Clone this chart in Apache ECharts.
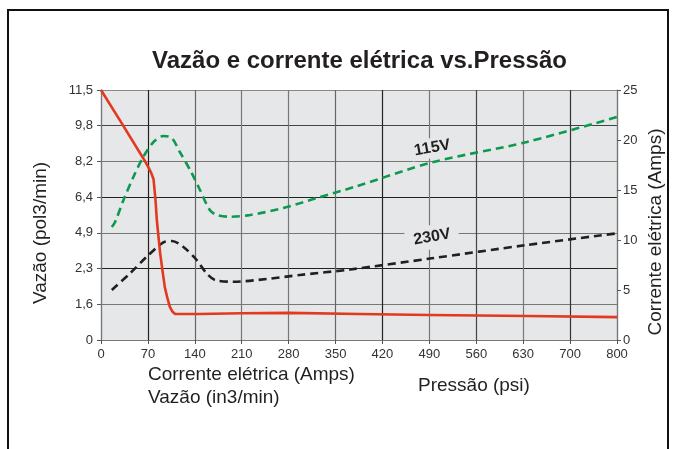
<!DOCTYPE html>
<html>
<head>
<meta charset="utf-8">
<script src="https://cdn.jsdelivr.net/npm/echarts@6/dist/echarts.min.js"></script>
<style>
  html, body { margin: 0; padding: 0; background: #fff; }
  #chart { width: 677px; height: 449px; }
</style>
</head>
<body>
<div id="chart"></div>
<script>
// Pressure axis: evenly spaced grid columns, labelled in psi
const pressureTicks = ['0', '70', '140', '210', '280', '350', '420', '490', '560', '630', '700', '800'];
// Flow axis (left): evenly spaced grid rows, labelled in pol3/min
const flowTicks = ['0', '1,6', '2,3', '4,9', '6,4', '8,2', '9,8', '11,5'];
// Current axis (right), Amps
const currentMax = 25;
const currentStep = 5;

// Flow curve: [pressure grid position, flow grid position]
const flowCurve = [
  [0, 7.0], [0.45, 6.05], [0.9, 5.09], [1.0, 4.86], [1.07, 4.68], [1.12, 4.5],
  [1.16, 3.95], [1.19, 3.36], [1.26, 2.44], [1.31, 1.95], [1.36, 1.48],
  [1.42, 1.15], [1.47, 0.92], [1.52, 0.8], [1.58, 0.73], [2.1, 0.73],
  [3.0, 0.75], [4.0, 0.76], [5.5, 0.73], [7.0, 0.70], [9.1, 0.67], [11, 0.64]
];

// Current at 115 V: [pressure grid position, Amps]
const current115 = [
  [0.23, 11.3], [0.3, 11.8], [0.48, 14.0], [0.69, 16.3], [0.9, 18.3], [1.12, 19.8],
  [1.33, 20.4], [1.51, 20.2], [1.68, 18.8], [1.9, 17.0], [2.11, 15.0],
  [2.32, 13.0], [2.47, 12.5], [2.75, 12.33], [3.18, 12.5], [3.89, 13.2],
  [4.6, 14.2], [5.4, 15.3], [7.09, 17.8], [9.08, 19.8], [11, 22.3]
];

// Current at 230 V: [pressure grid position, Amps]
const current230 = [
  [0.23, 5.0], [0.62, 6.67], [0.97, 8.3], [1.33, 9.77], [1.51, 9.9],
  [1.75, 9.33], [2.04, 8.0], [2.25, 6.67], [2.43, 6.0], [2.82, 5.83],
  [3.53, 6.1], [4.24, 6.5], [5.31, 7.05], [7.05, 8.17], [9.08, 9.5], [11, 10.67]
];

const FONT = '"Liberation Sans", Arial, Helvetica, sans-serif';
const INK = '#231f20';
const PLOT_BG = '#e6e7e8';

const chart = echarts.init(document.getElementById('chart'), null, { renderer: 'canvas' });

const option = {
  backgroundColor: '#fff',
  animation: false,
  textStyle: { fontFamily: FONT },
  title: {
    text: 'Vazão e corrente elétrica vs.Pressão',
    left: 147,
    top: 44,
    textStyle: { fontFamily: FONT, fontSize: 24, fontWeight: 'bold', color: INK }
  },
  grid: {
    left: 101, right: 60, top: 90, bottom: 109,
    show: true, backgroundColor: PLOT_BG, borderWidth: 0
  },
  xAxis: {
    type: 'value',
    min: 0, max: pressureTicks.length - 1, interval: 1,
    axisLine: { show: true, lineStyle: { color: '#777', width: 1.2 } },
    axisTick: { show: true, length: 4, lineStyle: { color: '#555' } },
    axisLabel: {
      color: '#333', fontSize: 13, margin: 8, fontFamily: FONT,
      formatter: v => pressureTicks[Math.round(v)]
    },
    splitLine: {
      show: true,
      lineStyle: {
        width: 1.2,
        color: ['#777', '#222', '#666', '#777', '#777', '#666', '#222', '#777', '#444', '#777', '#333', '#777']
      }
    }
  },
  yAxis: [
    {
      type: 'value',
      min: 0, max: flowTicks.length - 1, interval: 1,
      axisLine: { show: true, lineStyle: { color: '#777', width: 1.2 } },
      axisTick: { show: true, length: 4, lineStyle: { color: '#555' } },
      axisLabel: {
        color: '#333', fontSize: 13, margin: 8, fontFamily: FONT,
        formatter: v => flowTicks[Math.round(v)]
      },
      splitLine: {
        show: true,
        lineStyle: {
          width: 1.2,
          color: ['#777', '#777', '#222', '#777', '#222', '#777', '#444', '#888']
        }
      }
    },
    {
      type: 'value',
      position: 'right',
      min: 0, max: currentMax, interval: currentStep,
      axisLine: { show: true, lineStyle: { color: '#777', width: 1.2 } },
      axisTick: { show: true, length: 4, lineStyle: { color: '#555' } },
      axisLabel: { color: '#333', fontSize: 13, margin: 6, fontFamily: FONT },
      splitLine: { show: false }
    }
  ],
  series: [
    {
      name: 'Vazão',
      type: 'line',
      yAxisIndex: 0,
      data: flowCurve,
      showSymbol: false,
      smooth: false,
      lineStyle: { color: '#e2391f', width: 2.6, join: 'round' },
      z: 4
    },
    {
      name: '115V',
      type: 'line',
      yAxisIndex: 1,
      data: current115,
      showSymbol: false,
      smooth: 0.3,
      lineStyle: { color: '#0d9a4f', width: 2.6, type: [8, 5] },
      z: 3
    },
    {
      name: '230V',
      type: 'line',
      yAxisIndex: 1,
      data: current230,
      showSymbol: false,
      smooth: 0.3,
      lineStyle: { color: INK, width: 2.6, type: [8, 5] },
      z: 3
    }
  ]
};

chart.setOption(option);

// Voltage labels beside the current curves, plus axis titles and frame
const p115 = chart.convertToPixel({ xAxisIndex: 0, yAxisIndex: 1 }, [7.06, 19.2]);
const p230 = chart.convertToPixel({ xAxisIndex: 0, yAxisIndex: 1 }, [7.06, 10.3]);

const axisTitle = { fontFamily: FONT, fontSize: 19, fill: INK };

chart.setOption({
  graphic: [
    {
      type: 'rect', z: 100, silent: true,
      shape: { x: 8, y: 10, width: 660, height: 470 },
      style: { fill: null, stroke: '#111', lineWidth: 2 }
    },
    {
      type: 'text', z: 50, x: p115[0], y: p115[1], rotation: 10 * Math.PI / 180,
      style: {
        text: '115V', fontFamily: FONT, fontSize: 16, fontWeight: 'bold', fill: INK,
        align: 'center', verticalAlign: 'middle',
        backgroundColor: PLOT_BG, padding: [2, 3]
      }
    },
    {
      type: 'text', z: 50, x: p230[0], y: p230[1], rotation: 10 * Math.PI / 180,
      style: {
        text: '230V', fontFamily: FONT, fontSize: 16, fontWeight: 'bold', fill: INK,
        align: 'center', verticalAlign: 'middle',
        backgroundColor: PLOT_BG, padding: [4, 8]
      }
    },
    {
      type: 'text', x: 41, y: 233, rotation: Math.PI / 2,
      style: Object.assign({ text: 'Vazão (pol3/min)', align: 'center', verticalAlign: 'middle' }, axisTitle)
    },
    {
      type: 'text', x: 656, y: 232, rotation: Math.PI / 2,
      style: Object.assign({ text: 'Corrente elétrica (Amps)', align: 'center', verticalAlign: 'middle' }, axisTitle)
    },
    {
      type: 'text', x: 148, y: 375,
      style: Object.assign({ text: 'Corrente elétrica (Amps)', align: 'left', verticalAlign: 'middle' }, axisTitle)
    },
    {
      type: 'text', x: 148, y: 398,
      style: Object.assign({ text: 'Vazão (in3/min)', align: 'left', verticalAlign: 'middle' }, axisTitle)
    },
    {
      type: 'text', x: 418, y: 386,
      style: Object.assign({ text: 'Pressão (psi)', align: 'left', verticalAlign: 'middle' }, axisTitle)
    }
  ]
});
</script>
</body>
</html>
